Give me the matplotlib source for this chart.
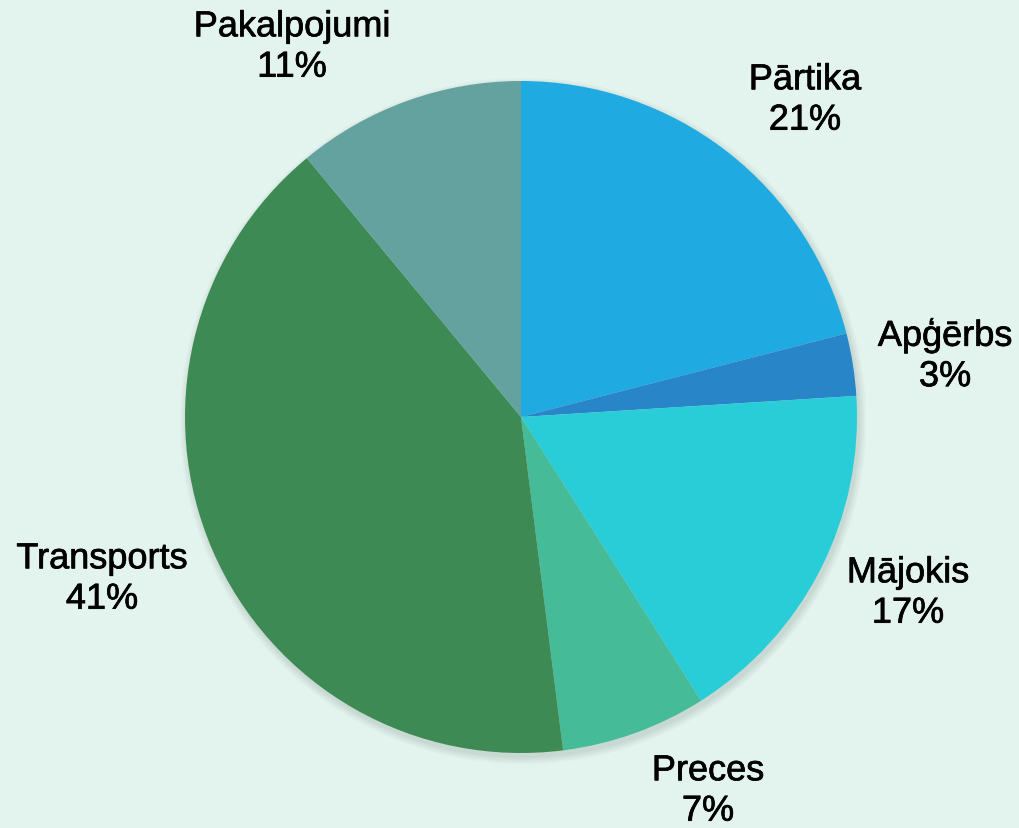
import matplotlib.pyplot as plt
import matplotlib.patheffects as pe
from matplotlib.patches import Circle

categories = ['Pārtika', 'Apģērbs', 'Mājokis', 'Preces', 'Transports', 'Pakalpojumi']
shares = [21, 3, 17, 7, 41, 11]
colors = ['#1FABE2', '#2785C8', '#28CDD8', '#45BB97', '#3E8A55', '#63A29F']

# label centres, pixels from top-left
label_pos = [(805, 101), (945, 357), (908, 594), (708, 792), (102, 580), (292, 48)]

bg = '#E3F3EE'
W, H = 1020, 829
cx, cy, r = 521, H - 418, 336

fig = plt.figure(figsize=(10.2, 8.29), dpi=100, facecolor=bg)
ax = fig.add_axes([0, 0, 1, 1])
ax.set_facecolor(bg)

# soft shadow under the pie
for i, a in enumerate([0.04, 0.05, 0.05, 0.06]):
    ax.add_patch(Circle((cx + 2, cy - 4), r + 7 - 2 * i, color='#5a6f68', alpha=a, lw=0, zorder=0))

wedges, _ = ax.pie(shares, colors=colors, startangle=90, counterclock=False,
                   center=(cx, cy), radius=r, frame=True,
                   wedgeprops=dict(linewidth=0, zorder=2))

for c, s, (x, y) in zip(categories, shares, label_pos):
    ax.text(x, H - y, f'{c}\n{s}%', ha='center', va='center', fontsize=26,
            family='Liberation Sans', color='black', linespacing=1.2,
            path_effects=[pe.withStroke(linewidth=0.5, foreground='black')])

ax.set_xlim(0, W)
ax.set_ylim(0, H)
ax.set_aspect('equal')
ax.axis('off')

fig.savefig('out.png', dpi=100, facecolor=bg)
